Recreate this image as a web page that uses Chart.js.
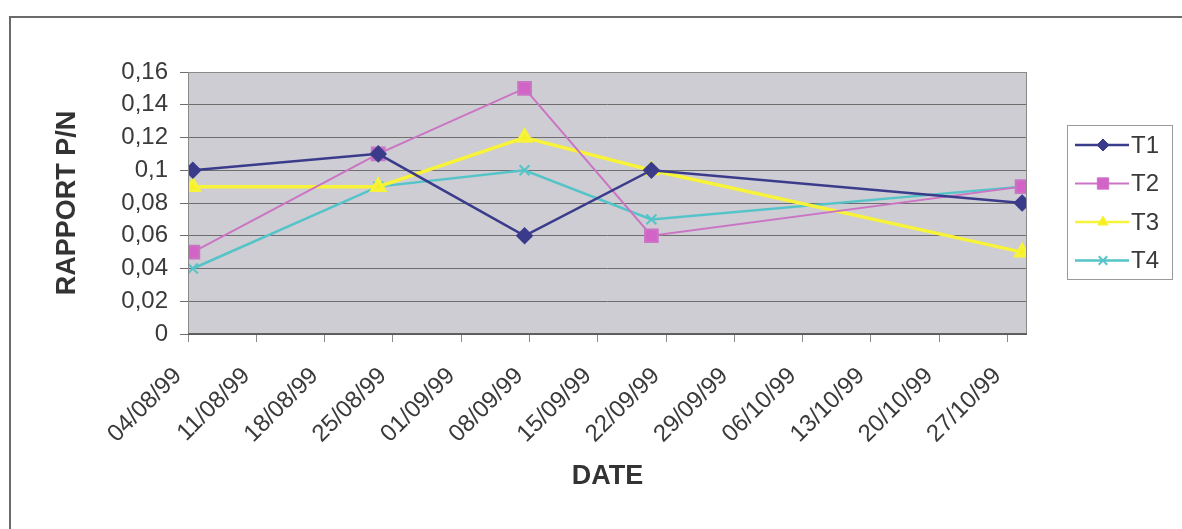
<!DOCTYPE html>
<html>
<head>
<meta charset="utf-8">
<script src="https://cdn.jsdelivr.net/npm/chart.js@4/dist/chart.umd.min.js"></script>
<style>
  html, body { margin: 0; padding: 0; background: #ffffff; }
  #wrap { width: 1182px; height: 529px; position: relative; }
</style>
</head>
<body>
<div id="wrap"><canvas id="c" width="1182" height="529"></canvas></div>
<script>
// Sampling dates and P/N ratio per treatment
const sampleDates = ['04/08/99', '23/08/99', '07/09/99', '20/09/99', '28/10/99'];
const t1 = [0.10, 0.11, 0.06, 0.10, 0.08];
const t2 = [0.05, 0.11, 0.15, 0.06, 0.09];
const t3 = [0.09, 0.09, 0.12, 0.10, 0.05];
const t4 = [0.04, 0.09, 0.10, 0.07, 0.09];

// Axis labels
const xTickLabels = ['04/08/99', '11/08/99', '18/08/99', '25/08/99', '01/09/99', '08/09/99', '15/09/99',
                     '22/09/99', '29/09/99', '06/10/99', '13/10/99', '20/10/99', '27/10/99'];
const yTickLabels = ['0', '0,02', '0,04', '0,06', '0,08', '0,1', '0,12', '0,14', '0,16'];
const yStep = 0.02;

// Day number counted from the first axis date
function dayOf(s) {
  const [d, m, y] = s.split('/').map(Number);
  const base = xTickLabels[0].split('/').map(Number);
  return (Date.UTC(1900 + y, m - 1, d) - Date.UTC(1900 + base[2], base[1] - 1, base[0])) / 86400000;
}
// each date occupies one day slot; points sit in the middle of their slot
const pts = vals => vals.map((v, i) => ({ x: dayOf(sampleDates[i]) + 0.5, y: v }));
const axisEnd = dayOf(sampleDates[sampleDates.length - 1]) + 1;

const FONT = "'Liberation Sans', Arial, sans-serif";
Chart.defaults.font.family = FONT;
Chart.defaults.color = '#3a3a3a';

const series = [
  { label: 'T1', data: pts(t1), borderColor: '#3b3b8c', backgroundColor: '#3b3b8c', borderWidth: 2.5,
    pointStyle: 'rectRot', pointRadius: 7 },
  { label: 'T2', data: pts(t2), borderColor: '#cc74c4', backgroundColor: '#d264c8', borderWidth: 2,
    pointStyle: 'rect', pointRadius: 9 },
  { label: 'T3', data: pts(t3), borderColor: '#f7f23a', backgroundColor: '#f7f020', borderWidth: 3.5,
    pointStyle: 'triangle', pointRadius: 7 },
  { label: 'T4', data: pts(t4), borderColor: '#55c4c8', backgroundColor: '#55c4c8', borderWidth: 2.5,
    pointStyle: 'crossRot', pointRadius: 7, pointBorderWidth: 2 }
];

// Plot background, outer frame and the boxed legend
const decor = {
  id: 'decor',
  beforeDraw(chart) {
    const { ctx, chartArea: a } = chart;
    ctx.save();
    ctx.fillStyle = '#cdcdd3';
    ctx.fillRect(a.left, a.top, a.right - a.left, a.bottom - a.top);
    ctx.strokeStyle = '#6a6a6a';
    ctx.lineWidth = 2;
    ctx.beginPath();
    ctx.moveTo(10, 529);
    ctx.lineTo(10, 17);
    ctx.lineTo(1182, 17);
    ctx.stroke();
    ctx.restore();
  },
  afterDatasetsDraw(chart) {
    const { ctx, chartArea: a } = chart;
    ctx.save();
    ctx.strokeStyle = '#8a8a8a';
    ctx.lineWidth = 1;
    ctx.strokeRect(a.left + 0.5, a.top + 0.5, a.right - a.left - 1, a.bottom - a.top - 1);
    ctx.strokeStyle = '#555555';
    ctx.lineWidth = 1.5;
    ctx.beginPath();
    ctx.moveTo(a.left, a.bottom);
    ctx.lineTo(a.right, a.bottom);
    ctx.stroke();
    ctx.restore();
  },
  afterDraw(chart) {
    const { ctx } = chart;
    const box = { x: 1067, y: 125, w: 106, h: 155 };
    ctx.save();
    ctx.fillStyle = '#ffffff';
    ctx.fillRect(box.x, box.y, box.w, box.h);
    ctx.strokeStyle = '#9a9a9a';
    ctx.lineWidth = 1;
    ctx.strokeRect(box.x + 0.5, box.y + 0.5, box.w - 1, box.h - 1);
    chart.data.datasets.forEach((ds, i) => {
      const y = box.y + 20 + i * 38.5;
      ctx.strokeStyle = ds.borderColor;
      ctx.lineWidth = Math.min(ds.borderWidth, 2.5);
      ctx.beginPath();
      ctx.moveTo(box.x + 8, y);
      ctx.lineTo(box.x + 62, y);
      ctx.stroke();
      ctx.fillStyle = ds.backgroundColor;
      ctx.strokeStyle = ds.borderColor;
      ctx.lineWidth = ds.pointBorderWidth || 1;
      Chart.helpers.drawPoint(ctx, { pointStyle: ds.pointStyle, radius: ds.pointRadius - 1, borderWidth: ctx.lineWidth },
        box.x + 36, y);
      ctx.fillStyle = '#3a3a3a';
      ctx.font = '24px ' + FONT;
      ctx.textBaseline = 'middle';
      ctx.textAlign = 'left';
      ctx.fillText(ds.label, box.x + 64, y + 1);
    });
    ctx.restore();
  }
};

new Chart(document.getElementById('c'), {
  type: 'line',
  data: { datasets: series },
  options: {
    responsive: false,
    animation: false,
    devicePixelRatio: 1,
    layout: { padding: { left: 0, top: 72, right: 155, bottom: 0 } },
    elements: { line: { tension: 0 } },
    plugins: { legend: { display: false }, tooltip: { enabled: false } },
    scales: {
      x: {
        type: 'linear',
        min: 0,
        max: axisEnd,
        afterBuildTicks: s => { s.ticks = xTickLabels.map(l => ({ value: dayOf(l) })); },
        afterFit: s => { s.height = 195; },
        grid: { drawOnChartArea: false, drawTicks: true, tickLength: 8, color: '#8a8a8a' },
        border: { display: false },
        ticks: {
          autoSkip: false, maxRotation: 45, minRotation: 45, padding: 20, labelOffset: -10,
          font: { size: 24 }, color: '#3a3a3a',
          callback: (v, i) => xTickLabels[i]
        },
        title: { display: true, text: 'DATE', font: { size: 27, weight: 'bold' }, color: '#333333',
                 padding: { top: 0, bottom: 36 } }
      },
      y: {
        min: 0,
        max: yStep * (yTickLabels.length - 1),
        afterBuildTicks: s => { s.ticks = yTickLabels.map((l, i) => ({ value: i * yStep })); },
        afterFit: s => { s.width = 188; },
        grid: { color: '#6e6e6e', lineWidth: 1, drawTicks: true, tickLength: 8 },
        border: { display: false },
        ticks: { font: { size: 24 }, color: '#3a3a3a', padding: 12,
                 callback: (v, i) => yTickLabels[i] },
        title: { display: true, text: 'RAPPORT P/N', font: { size: 27, weight: 'bold' }, color: '#333333',
                 padding: { top: 51, bottom: 0 } }
      }
    }
  },
  plugins: [decor]
});
</script>
</body>
</html>
